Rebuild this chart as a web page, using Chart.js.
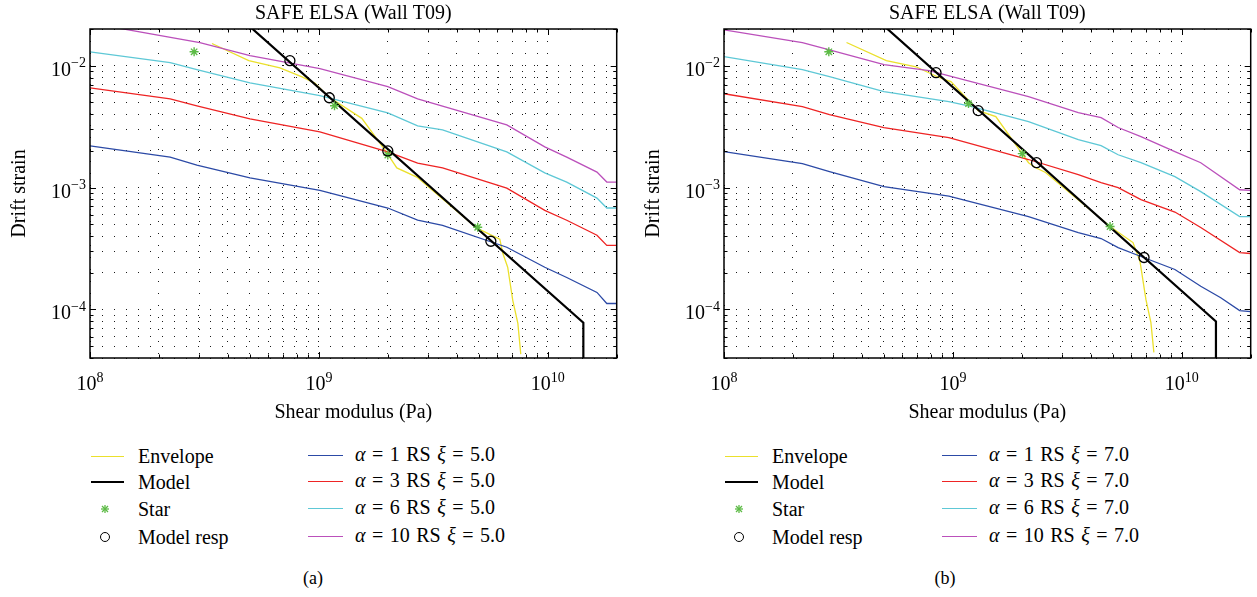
<!DOCTYPE html>
<html>
<head>
<meta charset="utf-8">
<script src="https://cdn.jsdelivr.net/npm/chart.js@4"></script>
<style>
  body { margin: 0; background: #fff; font-family: 'Liberation Serif', 'Times New Roman', serif; color: #000; }
  #wrap { position: relative; width: 1257px; height: 597px; overflow: hidden; }
  canvas { position: absolute; top: 0; }
  .leg { position: absolute; font-size: 20px; height: 26px; line-height: 26px; white-space: nowrap; }
  .leg.rs { word-spacing: 1.5px; }
  .sw { position: absolute; height: 0; }
  .cap { position: absolute; font-size: 18px; top: 568px; width: 40px; text-align: center; }
</style>
</head>
<body>
<div id="wrap">
  <canvas id="panelA" width="623" height="430" style="left:0px"></canvas>
  <canvas id="panelB" width="623" height="430" style="left:634px"></canvas>
</div>
<script>
// axes
const xRange = [1e8, 2e10];
const yRange = [4e-5, 2e-2];
const xDecades = [1e8, 1e9, 1e10];
const yDecades = [1e-5, 1e-4, 1e-3, 1e-2];

// legend text
const fixedLabels = ['Envelope', 'Model', 'Star', 'Model resp'];
const alphaValues = [1, 3, 6, 10];
const xiValues = ['5.0', '7.0'];
const captions = ['(a)', '(b)'];

// panel (a), xi = 5.0  -- [shear modulus Pa, drift strain]
const envelopeA = [[3.41e8, 0.0152], [4.94e8, 0.0110], [6.76e8, 0.0096], [8.44e8, 0.0081], [9.6e8, 0.0072],
  [1.11e9, 0.0055], [1.54e9, 0.0037], [1.94e9, 0.00204], [2.19e9, 0.00145], [2.68e9, 0.00122],
  [4.9e9, 0.000465], [6.17e9, 0.000377], [6.36e9, 0.000289], [6.68e9, 0.000222], [7.03e9, 0.000119],
  [7.4e9, 7.7e-5], [7.62e9, 4.3e-5]];
const modelA = [[4.5e8, 0.0249], [1.43e10, 7.8e-5], [1.43e10, 3e-5]];
const rs1A = [[1e8, 0.0022], [2.24e8, 0.00178], [2.93e8, 0.00153], [5e8, 0.0012], [1.01e9, 0.00095],
  [2e9, 0.00068], [2.7e9, 0.00054], [3.47e9, 0.00049], [6.62e9, 0.000324], [9.7e9, 0.000222],
  [1.21e10, 0.000183], [1.64e10, 0.000138], [1.81e10, 0.000112], [2e10, 0.000112]];
const rs3A = [[1e8, 0.00659], [2.24e8, 0.00535], [2.93e8, 0.00469], [5e8, 0.00366], [1.01e9, 0.00286],
  [2e9, 0.00196], [2.7e9, 0.00159], [3.47e9, 0.00145], [6.62e9, 0.00099], [9.7e9, 0.00065],
  [1.21e10, 0.00054], [1.64e10, 0.000407], [1.81e10, 0.000336], [2e10, 0.000336]];
const rs6A = [[1e8, 0.013], [2.24e8, 0.0106], [2.93e8, 0.0093], [5e8, 0.00724], [1.01e9, 0.00567],
  [2e9, 0.0041], [2.7e9, 0.00321], [3.47e9, 0.00297], [6.62e9, 0.00196], [9.7e9, 0.00132],
  [1.21e10, 0.00111], [1.64e10, 0.00082], [1.81e10, 0.00068], [2e10, 0.00068]];
const rs10A = [[1e8, 0.0224], [3.02e8, 0.01545], [5e8, 0.01208], [1.01e9, 0.00945], [2e9, 0.00672],
  [2.7e9, 0.00535], [6.62e9, 0.00327], [9.7e9, 0.00216], [1.21e10, 0.00178], [1.64e10, 0.00134],
  [1.81e10, 0.00111], [2e10, 0.00111]];
const starsA = [[2.85e8, 0.013], [1.17e9, 0.00469], [2e9, 0.00185], [4.94e9, 0.000473]];
const respA = [[7.47e8, 0.011], [1.11e9, 0.00546], [2e9, 0.002], [5.64e9, 0.000363]];

// panel (b), xi = 7.0
const envelopeB = [[3.43e8, 0.0155], [5.12e8, 0.011], [6.9e8, 0.0098], [8.69e8, 0.008], [9.8e8, 0.0074],
  [1.29e9, 0.00428], [1.54e9, 0.00382], [2.14e9, 0.0016], [2.29e9, 0.00146], [2.54e9, 0.00133],
  [4.86e9, 0.000479], [6.12e9, 0.000354], [6.57e9, 0.000247], [6.97e9, 0.000121], [7.33e9, 7.8e-5],
  [7.55e9, 4.45e-5]];
const modelB = [[4.5e8, 0.0253], [1.41e10, 7.98e-5], [1.41e10, 3e-5]];
const rs1B = [[1e8, 0.00197], [2.2e8, 0.00157], [2.89e8, 0.00135], [5e8, 0.00102], [9.6e8, 0.00085],
  [2.14e9, 0.000578], [3.53e9, 0.000428], [4.44e9, 0.000382], [5.27e9, 0.000322], [6.63e9, 0.000272],
  [9.33e9, 0.000213], [1.21e10, 0.000155], [1.48e10, 0.000125], [1.79e10, 9.8e-5], [2e10, 9.6e-5]];
const rs3B = [[1e8, 0.00589], [2.2e8, 0.00461], [2.89e8, 0.00397], [5e8, 0.0031], [9.6e8, 0.00257],
  [2.14e9, 0.0017], [3.53e9, 0.00128], [4.44e9, 0.0011], [5.27e9, 0.001], [6.63e9, 0.000798],
  [9.33e9, 0.00063], [1.21e10, 0.00047], [1.79e10, 0.000293], [2e10, 0.000288]];
const rs6B = [[1e8, 0.01185], [2.2e8, 0.00927], [2.89e8, 0.00812], [5e8, 0.00612], [9.6e8, 0.00507],
  [1.21e9, 0.00461], [2.14e9, 0.00348], [3.53e9, 0.00247], [4.44e9, 0.00221], [5.27e9, 0.00186],
  [6.63e9, 0.0016], [9.33e9, 0.00123], [1.21e10, 0.000927], [1.79e10, 0.000578], [2e10, 0.000578]];
const rs10B = [[1e8, 0.0197], [2.2e8, 0.01545], [2.89e8, 0.0135], [5e8, 0.0102], [7.87e8, 0.0091],
  [2.14e9, 0.00557], [3.53e9, 0.00412], [4.44e9, 0.00375], [5.27e9, 0.00311], [6.63e9, 0.00262],
  [9.33e9, 0.00197], [1.21e10, 0.0016], [1.79e10, 0.00096], [2e10, 0.00095]];
const starsB = [[2.87e8, 0.013], [1.17e9, 0.00489], [2.01e9, 0.0019], [4.86e9, 0.000479]];
const respB = [[8.44e8, 0.00877], [1.29e9, 0.00428], [2.32e9, 0.0016], [6.84e9, 0.000267]];

const SERIF = "'Liberation Serif', 'Times New Roman', serif";
const colEnv = '#ebe02c';
const colRs = ['#2c4aa6', '#ee2424', '#5ec8d6', '#bb50bb'];
const colStar = '#5dbb46';

function toXY(arr) {
    return arr.map(p => ({ x: p[0], y: p[1] }));
}

// 1..9 x each decade, inside the range
function logTicks(decades, min, max) {
    const out = [];
    decades.forEach(d => {
        for (let k = 1; k < 10; k++) {
            const v = d * k;
            if (v >= min * 0.999 && v <= max * 1.001) out.push({ value: v, major: k === 1 });
        }
    });
    return out;
}

function supText(n) {
    return String(n).replace('-', '\u2212');
}

// box, inward ticks and 10^n labels, matlab style
const matlabAxes = {
    id: 'matlabAxes',
    afterDraw(chart) {
        const { ctx, chartArea: a, scales: { x, y } } = chart;
        ctx.save();
        ctx.strokeStyle = '#000';
        ctx.lineWidth = 1;
        ctx.beginPath();
        x.ticks.forEach(t => {
            const px = Math.round(x.getPixelForValue(t.value)) + 0.5;
            const len = t.major ? 6 : 3.5;
            ctx.moveTo(px, a.bottom); ctx.lineTo(px, a.bottom - len);
            ctx.moveTo(px, a.top); ctx.lineTo(px, a.top + len);
        });
        y.ticks.forEach(t => {
            const py = Math.round(y.getPixelForValue(t.value)) + 0.5;
            const len = t.major ? 6 : 3.5;
            ctx.moveTo(a.left, py); ctx.lineTo(a.left + len, py);
            ctx.moveTo(a.right, py); ctx.lineTo(a.right - len, py);
        });
        ctx.stroke();
        ctx.lineWidth = 1.5;
        ctx.strokeRect(a.left, a.top, a.right - a.left, a.bottom - a.top);

        ctx.fillStyle = '#000';
        ctx.textBaseline = 'alphabetic';
        const big = '20px ' + SERIF, small = '14px ' + SERIF;
        x.ticks.filter(t => t.major).forEach(t => {
            const e = supText(Math.round(Math.log10(t.value)));
            ctx.font = big; const w1 = ctx.measureText('10').width;
            ctx.font = small; const w2 = ctx.measureText(e).width;
            const x0 = x.getPixelForValue(t.value) - (w1 + w2) / 2;
            ctx.font = big; ctx.textAlign = 'left';
            ctx.fillText('10', x0, a.bottom + 32);
            ctx.font = small;
            ctx.fillText(e, x0 + w1, a.bottom + 24);
        });
        y.ticks.filter(t => t.major && t.value >= y.min).forEach(t => {
            const e = supText(Math.round(Math.log10(t.value)));
            const py = y.getPixelForValue(t.value);
            ctx.font = small; const w2 = ctx.measureText(e).width;
            ctx.textAlign = 'right';
            ctx.fillText(e, a.left - 4, py + 1.5);
            ctx.font = big;
            ctx.fillText('10', a.left - 4 - w2, py + 10);
        });
        ctx.restore();
    }
};

function lineSet(label, arr, color, width, order) {
    return {
        label: label,
        data: toXY(arr),
        borderColor: color,
        borderWidth: width,
        pointRadius: 0,
        tension: 0,
        clip: 0,
        order: order
    };
}

function vePanel(id, padRight, d) {
    const ctx = document.getElementById(id).getContext('2d');
    const gridOpts = { color: '#1a1a1a', lineWidth: 1, drawTicks: false };
    const borderOpts = { display: false, dash: [1, 11] };

    new Chart(ctx, {
        type: 'line',
        data: {
            datasets: [
                lineSet('Envelope', d.env, colEnv, 1.3, 6),
                lineSet('Model', d.model, '#000', 2.2, 2),
                lineSet('RS 1', d.rs[0], colRs[0], 1.3, 5),
                lineSet('RS 3', d.rs[1], colRs[1], 1.3, 5),
                lineSet('RS 6', d.rs[2], colRs[2], 1.3, 5),
                lineSet('RS 10', d.rs[3], colRs[3], 1.3, 5),
                {
                    label: 'Star', data: toXY(d.stars), showLine: false,
                    pointStyle: 'star', pointRadius: 4.5, borderColor: colStar,
                    pointBorderColor: colStar, pointBorderWidth: 1.4, order: 1
                },
                {
                    label: 'Model resp', data: toXY(d.resp), showLine: false,
                    pointStyle: 'circle', pointRadius: 5, borderColor: '#000',
                    pointBorderColor: '#000', pointBackgroundColor: 'rgba(0,0,0,0)',
                    pointBorderWidth: 1.3, order: 0
                }
            ]
        },
        options: {
            responsive: false,
            animation: false,
            layout: { padding: { left: 0, right: padRight, top: 0, bottom: 0 } },
            plugins: {
                legend: { display: false },
                tooltip: { enabled: false },
                title: {
                    display: true,
                    text: 'SAFE ELSA (Wall T09)',
                    fullSize: false,
                    color: '#000',
                    font: { family: SERIF, size: 20, weight: 'normal' },
                    padding: { top: 2, bottom: 3 }
                }
            },
            scales: {
                x: {
                    type: 'logarithmic',
                    min: xRange[0], max: xRange[1],
                    afterBuildTicks: s => { s.ticks = logTicks(xDecades, xRange[0], xRange[1]); },
                    afterFit: s => { s.height = 72; },
                    ticks: { display: false },
                    grid: gridOpts,
                    border: borderOpts,
                    title: {
                        display: true, text: 'Shear modulus (Pa)', color: '#000',
                        font: { family: SERIF, size: 20 }, padding: { top: 0, bottom: 5 }
                    }
                },
                y: {
                    type: 'logarithmic',
                    min: yRange[0], max: yRange[1],
                    afterBuildTicks: s => { s.ticks = logTicks(yDecades, yRange[0], yRange[1]); },
                    afterFit: s => { s.width = 90; },
                    ticks: { display: false },
                    grid: gridOpts,
                    border: borderOpts,
                    title: {
                        display: true, text: 'Drift strain', color: '#000',
                        font: { family: SERIF, size: 20 }, padding: { top: 8, bottom: 0 }
                    }
                }
            }
        },
        plugins: [matlabAxes]
    });
}

// legend + caption below each panel, left = chart area left edge
const rowY = [456, 482, 509, 537];
function vePanelLegend(left, xi, caption, capX) {
    const wrap = document.getElementById('wrap');
    const add = html => wrap.insertAdjacentHTML('beforeend', html);
    fixedLabels.forEach((lab, i) => {
        add(`<div class="leg" style="left:${left + 48}px;top:${rowY[i] - 13}px">${lab}</div>`);
    });
    add(`<div class="sw" style="left:${left + 1}px;width:33px;top:${rowY[0]}px;border-top:1.3px solid ${colEnv}"></div>`);
    add(`<div class="sw" style="left:${left + 1}px;width:33px;top:${rowY[1] - 1}px;border-top:2px solid #000"></div>`);
    add(`<svg style="position:absolute;left:${left + 10}px;top:${rowY[2] - 5}px" width="10" height="10" viewBox="-5 -5 10 10">
      <g stroke="${colStar}" stroke-width="1.3"><line x1="-4" y1="0" x2="4" y2="0"/><line x1="0" y1="-4" x2="0" y2="4"/>
      <line x1="-3" y1="-3" x2="3" y2="3"/><line x1="-3" y1="3" x2="3" y2="-3"/></g></svg>`);
    add(`<div style="position:absolute;left:${left + 10}px;top:${rowY[3] - 5}px;width:8px;height:8px;border:1.3px solid #000;border-radius:50%"></div>`);
    alphaValues.forEach((a, i) => {
        add(`<div class="sw" style="left:${left + 218}px;width:35px;top:${rowY[i] - 1}px;border-top:1.5px solid ${colRs[i]}"></div>`);
        add(`<div class="leg rs" style="left:${left + 265}px;top:${rowY[i] - 15}px"><i>α</i> = ${a} RS <i>ξ</i> = ${xi}</div>`);
    });
    add(`<div class="cap" style="left:${capX - 20}px">${caption}</div>`);
}

vePanel('panelA', 6, { env: envelopeA, model: modelA, rs: [rs1A, rs3A, rs6A, rs10A], stars: starsA, resp: respA });
vePanel('panelB', 4, { env: envelopeB, model: modelB, rs: [rs1B, rs3B, rs6B, rs10B], stars: starsB, resp: respB });
vePanelLegend(90, xiValues[0], captions[0], 313);
vePanelLegend(724, xiValues[1], captions[1], 945);
</script>
</body>
</html>
